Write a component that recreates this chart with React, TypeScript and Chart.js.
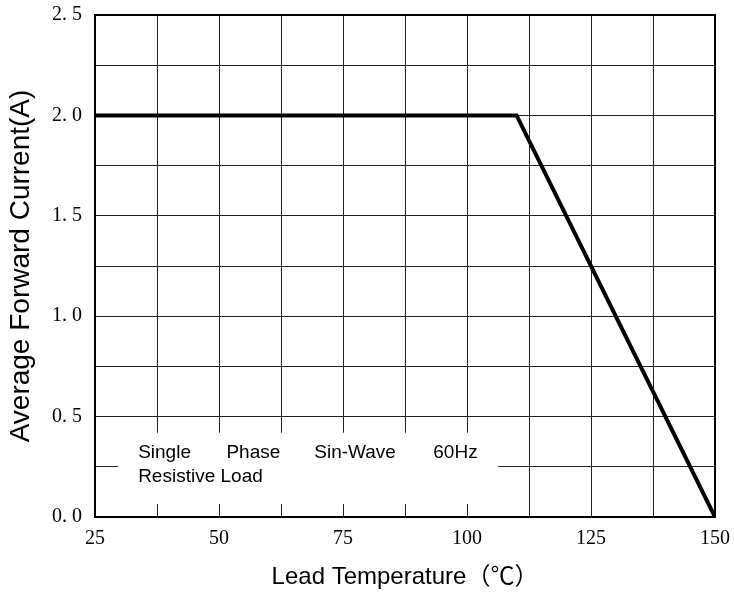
import React, { useEffect, useRef } from "react";
import { Chart, registerables } from "chart.js";

Chart.register(...registerables);

const temperature = [25, 110, 150];
const current = [2.0, 2.0, 0.0];
const noteLine1 = ["Single", "Phase", "Sin-Wave", "60Hz"];
const noteLine2 = "Resistive Load";
const xTitle = "Lead Temperature（℃）";
const yTitle = "Average Forward Current(A)";

const SERIF = "'Liberation Serif', 'DejaVu Serif', serif";
const SANS = "'Liberation Sans', Arial, 'Noto Sans CJK SC', sans-serif";

const framePlugin = {
  id: "frameAndNote",
  beforeDatasetsDraw(chart: any) {
    const { ctx, chartArea, scales } = chart;
    const x = scales.x;
    const y = scales.y;
    ctx.save();
    // note box (white, hides grid)
    const bx0 = x.getPixelForValue(29.6);
    const bx1 = x.getPixelForValue(106.3);
    const by0 = y.getPixelForValue(0.42);
    const by1 = y.getPixelForValue(0.065);
    ctx.fillStyle = "#ffffff";
    ctx.fillRect(bx0, by0, bx1 - bx0, by1 - by0);
    ctx.fillStyle = "#000";
    ctx.font = "19px " + SANS;
    ctx.textBaseline = "middle";
    ctx.textAlign = "left";
    const wordX = [33.7, 51.5, 69.2, 93.2];
    noteLine1.forEach((w, i) => {
      ctx.fillText(w, x.getPixelForValue(wordX[i]), y.getPixelForValue(0.318));
    });
    ctx.fillText(noteLine2, x.getPixelForValue(33.7), y.getPixelForValue(0.198));
    // frame
    ctx.strokeStyle = "#000";
    ctx.lineWidth = 2;
    ctx.strokeRect(chartArea.left, chartArea.top, chartArea.right - chartArea.left, chartArea.bottom - chartArea.top);
    ctx.restore();
  },
};

export default function App() {
  const ref = useRef<HTMLCanvasElement | null>(null);
  useEffect(() => {
    if (!ref.current) return;
    const chart = new Chart(ref.current, {
      type: "line",
      data: {
        datasets: [
          {
            data: temperature.map((t, i) => ({ x: t, y: current[i] })),
            borderColor: "#000",
            borderWidth: 4,
            pointRadius: 0,
            tension: 0,
            fill: false,
          },
        ],
      },
      plugins: [framePlugin],
      options: {
        animation: false,
        responsive: true,
        maintainAspectRatio: false,
        layout: { padding: { top: 15, right: 19, left: 0, bottom: 0 } },
        plugins: { legend: { display: false }, tooltip: { enabled: false } },
        scales: {
          x: {
            type: "linear",
            min: 25,
            max: 150,
            afterFit: (s: any) => {
              s.height = 75;
              s.paddingLeft = 0;
              s.paddingRight = 0;
            },
            grid: { color: "#222", lineWidth: 1, drawTicks: false },
            border: { display: false },
            ticks: {
              stepSize: 12.5,
              autoSkip: false,
              maxRotation: 0,
              padding: 10,
              color: "#000",
              font: { family: SERIF, size: 20 },
              callback: (v: any) => (Number(v) % 25 === 0 ? String(v) : ""),
            },
            title: {
              display: true,
              text: xTitle,
              color: "#000",
              font: { family: SANS, size: 24 },
              padding: { top: 2, bottom: 0 },
            },
          },
          y: {
            type: "linear",
            min: 0,
            max: 2.5,
            afterFit: (s: any) => {
              s.width = 95;
              s.paddingTop = 0;
              s.paddingBottom = 0;
            },
            grid: { color: "#222", lineWidth: 1, drawTicks: false },
            border: { display: false },
            ticks: {
              stepSize: 0.25,
              autoSkip: false,
              padding: 13,
              color: "#000",
              font: { family: SERIF, size: 20 },
              callback: (v: any) => {
                const n = Number(v);
                if (Math.abs((n * 2) - Math.round(n * 2)) > 1e-6) return "";
                return n.toFixed(1).replace(".", ". ");
              },
            },
            title: {
              display: true,
              text: yTitle,
              color: "#000",
              font: { family: SANS, size: 28 },
              padding: { top: 4, bottom: 0 },
            },
          },
        },
      },
    });
    return () => chart.destroy();
  }, []);
  return (
    <div style={{ position: "fixed", left: 0, top: 0, width: 734, height: 592, background: "#fff" }}>
      <canvas ref={ref} />
    </div>
  );
}
